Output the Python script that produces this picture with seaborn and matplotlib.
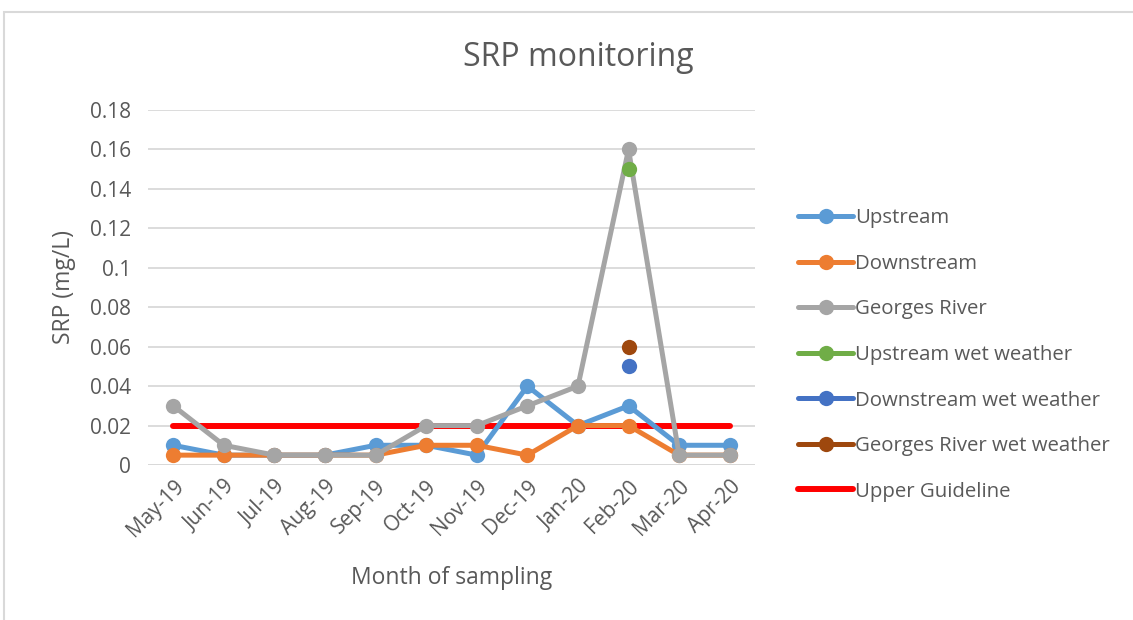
import matplotlib
matplotlib.use("Agg")
import matplotlib.pyplot as plt
import seaborn as sns
import numpy as np
from matplotlib.patches import Rectangle

# Data
months = ["May-19", "Jun-19", "Jul-19", "Aug-19", "Sep-19", "Oct-19",
          "Nov-19", "Dec-19", "Jan-20", "Feb-20", "Mar-20", "Apr-20"]
upstream = [0.01, 0.005, 0.005, 0.005, 0.01, 0.01, 0.005, 0.04, 0.02, 0.03, 0.01, 0.01]
downstream = [0.005, 0.005, 0.005, 0.005, 0.005, 0.01, 0.01, 0.005, 0.02, 0.02, 0.005, 0.005]
georges = [0.03, 0.01, 0.005, 0.005, 0.005, 0.02, 0.02, 0.03, 0.04, 0.16, 0.005, 0.005]
wet_month = "Feb-20"
upstream_wet = 0.15
downstream_wet = 0.05
georges_wet = 0.06
guideline = 0.02
y_ticks = [0, 0.02, 0.04, 0.06, 0.08, 0.1, 0.12, 0.14, 0.16, 0.18]

sns.set_style("white")
plt.rcParams["font.family"] = ["Open Sans", "DejaVu Sans"]
text_col = "#595959"

fig = plt.figure(figsize=(11.33, 6.2), dpi=100)
ax = fig.add_axes([148 / 1133, 1 - 465 / 620, (755 - 148) / 1133, (465 - 110) / 620])

# chart frame like the spreadsheet border
fig.patches.append(Rectangle((4 / 1133, -0.05), 1.2, 1 - 12 / 620 + 0.05, transform=fig.transFigure,
                             fill=False, edgecolor="#d9d9d9", linewidth=1.5))

x = np.arange(len(months))
wet_x = [months.index(wet_month)]
lw = 3.6
ms = 11

sns.lineplot(x=x, y=upstream, ax=ax, color="#5B9BD5", marker="o", markersize=ms,
             markeredgewidth=0, linewidth=lw, label="Upstream")
sns.lineplot(x=x, y=downstream, ax=ax, color="#ED7D31", marker="o", markersize=ms,
             markeredgewidth=0, linewidth=lw, label="Downstream")
sns.lineplot(x=x, y=georges, ax=ax, color="#A5A5A5", marker="o", markersize=ms,
             markeredgewidth=0, linewidth=lw, label="Georges River")
sns.lineplot(x=wet_x, y=[upstream_wet], ax=ax, color="#70AD47", marker="o", markersize=ms,
             markeredgewidth=0, linewidth=lw, label="Upstream wet weather")
sns.lineplot(x=wet_x, y=[downstream_wet], ax=ax, color="#4472C4", marker="o", markersize=ms,
             markeredgewidth=0, linewidth=lw, label="Downstream wet weather")
sns.lineplot(x=wet_x, y=[georges_wet], ax=ax, color="#9E480E", marker="o", markersize=ms,
             markeredgewidth=0, linewidth=lw, label="Georges River wet weather")
sns.lineplot(x=x, y=[guideline] * len(months), ax=ax, color="#FF0000", linewidth=4.3,
             label="Upper Guideline", zorder=1.8)

# Axes format
ax.set_xlim(-0.5, len(months) - 0.5)
ax.set_ylim(0, 0.18)
ax.set_yticks(y_ticks)
ax.set_yticklabels([f"{t:g}" for t in y_ticks])
ax.set_xticks(x)
ax.set_xticklabels(months, rotation=45, ha="right", rotation_mode="anchor")
ax.tick_params(axis="both", length=0, labelsize=15, colors=text_col)
ax.tick_params(axis="y", pad=12)
ax.tick_params(axis="x", pad=8)
ax.grid(True, axis="y", color="#d9d9d9", linewidth=1.3)
ax.set_axisbelow(True)
for s in ax.spines.values():
    s.set_visible(False)
ax.axhline(0, color="#d9d9d9", linewidth=1.3, zorder=0.5)

ax.set_xlabel("Month of sampling", fontsize=16.5, color=text_col, labelpad=18)
ax.set_ylabel("SRP (mg/L)", fontsize=16.5, color=text_col, labelpad=10)
fig.text(578 / 1133, 1 - 57 / 620, "SRP monitoring", fontsize=23, color=text_col,
         ha="center", va="center")

# Legend
ax.get_legend().remove()
handles, labels = ax.get_legend_handles_labels()
leg = fig.legend(handles, labels, loc="center left", bbox_to_anchor=(790 / 1133, 1 - 355 / 620),
                 frameon=False, fontsize=14.7, handlelength=2.7, handletextpad=0.1,
                 labelspacing=1.25, borderaxespad=0)
for t in leg.get_texts():
    t.set_color(text_col)

plt.savefig("out.png", dpi=100)
